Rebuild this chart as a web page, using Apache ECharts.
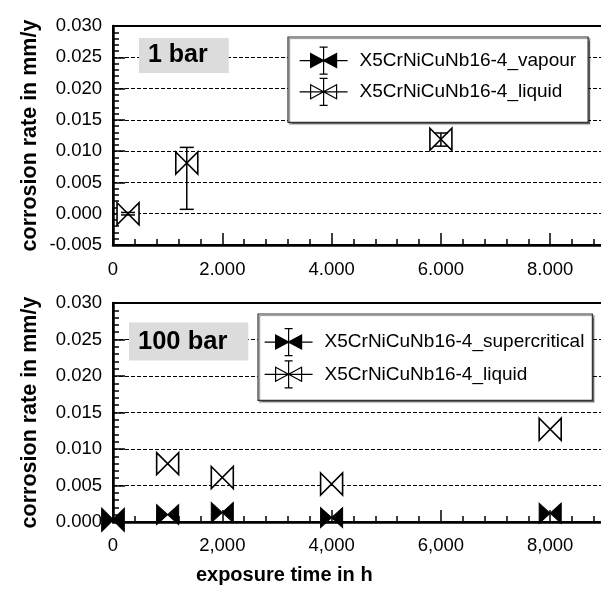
<!DOCTYPE html>
<html>
<head>
<meta charset="utf-8">
<script src="https://cdn.jsdelivr.net/npm/echarts@6/dist/echarts.min.js"></script>
<style>html,body{margin:0;padding:0;background:#fff;}#c{width:601px;height:595px;}</style>
</head>
<body>
<div id="c"></div>
<script>
// ---- data ----
const seriesNames1 = ['X5CrNiCuNb16-4_vapour', 'X5CrNiCuNb16-4_liquid'];
const seriesNames2 = ['X5CrNiCuNb16-4_supercritical', 'X5CrNiCuNb16-4_liquid'];
const panelTitles = ['1 bar', '100 bar'];
// 1 bar panel: [time h, corrosion rate mm/y]
const vapour1 = [];
const liquid1 = [[275, 0.0000], [1350, 0.0081], [6000, 0.0119]];
// error bars: [time h, low, high]
const liquid1Err = [[275, -0.0002, 0.0002], [1350, 0.0007, 0.0106], [6000, 0.0108, 0.0129]];
// 100 bar panel
const supercrit2 = [[0, 0.0003], [1000, 0.0010], [2000, 0.0013], [4000, 0.0006], [8000, 0.0012]];
const liquid2 = [[0, 0.0003], [1000, 0.0080], [2000, 0.0061], [4000, 0.0052], [8000, 0.0127]];
const xTickLabels1 = ['0', '2.000', '4.000', '6.000', '8.000'];
const xTickLabels2 = ['0', '2,000', '4,000', '6,000', '8,000'];
const yName = 'corrosion rate in mm/y';
const xName = 'exposure time in h';

// ---- styling ----
const FONT = 'Liberation Sans, Arial, Helvetica, sans-serif';
const bowtie = 'path://M0,0L20,20L20,0L0,20Z';
const legendIcon = 'path://M0,13.5L48,13.5M24,0L24,27M20,0L28,0M20,27L28,27M11,6.5L37,20.5L37,6.5L11,20.5Z';
const openStyle = {color: '#fff', borderColor: '#000', borderWidth: 1.6, opacity: 1};
const filledStyle = {color: '#000', borderColor: '#000', borderWidth: 1, opacity: 1};
const GRID_W = 546.5; // axis 0..10000 h; the window shows 0..~8950 h

function xAxisOpt(gridIndex, labels, withName) {
  const o = {
    type: 'value', gridIndex, min: 0, max: 10000, interval: 2000,
    axisLine: {show: true, onZero: false, lineStyle: {color: '#000', width: 2.5}},
    axisTick: {show: true, inside: true, length: 12, lineStyle: {color: '#000', width: 1.5}},
    minorTick: {show: true, splitNumber: 5, length: 6, lineStyle: {color: '#000', width: 1.5}},
    splitLine: {show: false},
    axisLabel: {
      margin: gridIndex === 0 ? 15 : 14, fontFamily: FONT, fontSize: 18.5, color: '#000',
      showMaxLabel: false,
      formatter: v => { const i = Math.round(v / 2000); return labels[i] !== undefined ? labels[i] : ''; }
    }
  };
  if (withName) {
    o.name = xName; o.nameLocation = 'middle'; o.nameGap = 43; o.nameMoveOverlap = false;
    o.nameTextStyle = {fontFamily: FONT, fontSize: 20, fontWeight: 'bold', color: '#000', padding: [0, 204, 0, 0]};
  }
  return o;
}
function yAxisOpt(gridIndex, min) {
  return {
    type: 'value', gridIndex, min: min, max: 0.030, interval: 0.005,
    name: yName, nameLocation: 'middle', nameGap: 72, nameMoveOverlap: false,
    nameTextStyle: {fontFamily: FONT, fontSize: 21.5, fontWeight: 'bold', color: '#000'},
    axisLine: {show: true, onZero: false, lineStyle: {color: '#000', width: 2.5}},
    axisTick: {show: true, inside: true, length: 12, lineStyle: {color: '#000', width: 1.5}},
    minorTick: {show: true, splitNumber: 5, length: 6, lineStyle: {color: '#000', width: 1.5}},
    splitLine: {show: true, lineStyle: {color: '#000', width: 1, type: [4, 2]}},
    axisLabel: {margin: 11, fontFamily: FONT, fontSize: 18.5, color: '#000',
      formatter: v => (Math.abs(v) < 1e-9 ? 0 : v).toFixed(3)}
  };
}
function errSeries(data, xi, yi) {
  return {
    type: 'custom', xAxisIndex: xi, yAxisIndex: yi, z: 5, silent: true,
    encode: {x: 0, y: [1, 2]},
    data: data,
    renderItem: function (params, api) {
      const x = api.value(0), lo = api.value(1), hi = api.value(2);
      const p0 = api.coord([x, lo]), p1 = api.coord([x, hi]);
      const cap = 7;
      const st = {stroke: '#000', lineWidth: 1.5};
      return {type: 'group', children: [
        {type: 'line', shape: {x1: p0[0], y1: p0[1], x2: p1[0], y2: p1[1]}, style: st},
        {type: 'line', shape: {x1: p0[0] - cap, y1: p0[1], x2: p0[0] + cap, y2: p0[1]}, style: st},
        {type: 'line', shape: {x1: p1[0] - cap, y1: p1[1], x2: p1[0] + cap, y2: p1[1]}, style: st}
      ]};
    }
  };
}
function legendOpt(names, top, left, padding, gap) {
  return {
    orient: 'vertical', left: left, top: top, padding: padding, itemGap: gap,
    itemWidth: 48, itemHeight: 27, selectedMode: false,
    backgroundColor: '#fff', borderColor: '#333', borderWidth: 1.2,
    shadowColor: 'rgba(0,0,0,0.45)', shadowBlur: 1, shadowOffsetX: 1.5, shadowOffsetY: 1.5,
    textStyle: {fontFamily: FONT, fontSize: 19, color: '#000', padding: [0, 0, 0, 7]},
    data: [
      {name: names[0], icon: legendIcon, itemStyle: {color: '#000', borderColor: '#000', borderWidth: 1.2, opacity: 1}},
      {name: names[1], icon: legendIcon, itemStyle: {color: '#fff', borderColor: '#000', borderWidth: 1.2, opacity: 1}}
    ]
  };
}

const chart = echarts.init(document.getElementById('c'), null, {renderer: 'canvas'});
chart.setOption({
  backgroundColor: '#fff',
  animation: false,
  title: [
    {text: panelTitles[0], left: 139, top: 38, padding: [5, 21, 5, 9], backgroundColor: '#dcdcdc',
      textStyle: {fontFamily: FONT, fontSize: 25, fontWeight: 'bold', color: '#000', lineHeight: 25}},
    {text: panelTitles[1], left: 129, top: 323, padding: [6, 21, 6, 9], backgroundColor: '#dcdcdc',
      textStyle: {fontFamily: FONT, fontSize: 25.5, fontWeight: 'bold', color: '#000', lineHeight: 25}}
  ],
  legend: [
    legendOpt(seriesNames1, 37, 288, [9.5, 12, 16.5, 11], 3),
    legendOpt(seriesNames2, 314, 258, [14, 8, 12, 6], 4)
  ],
  grid: [
    {left: 113, top: 26, width: GRID_W, height: 219, outerBoundsMode: 'none', containLabel: false, show: true, borderColor: '#000', borderWidth: 2, backgroundColor: 'transparent'},
    {left: 113, top: 303, width: GRID_W, height: 219, outerBoundsMode: 'none', containLabel: false, show: true, borderColor: '#000', borderWidth: 2, backgroundColor: 'transparent'}
  ],
  xAxis: [xAxisOpt(0, xTickLabels1, false), xAxisOpt(1, xTickLabels2, true)],
  yAxis: [yAxisOpt(0, -0.005), yAxisOpt(1, 0)],
  series: [
    {name: seriesNames1[0], type: 'scatter', xAxisIndex: 0, yAxisIndex: 0, data: vapour1,
      symbol: bowtie, symbolSize: [22, 20], itemStyle: filledStyle, z: 4},
    {name: seriesNames1[1], type: 'scatter', xAxisIndex: 0, yAxisIndex: 0, data: liquid1,
      symbol: bowtie, symbolSize: [22, 22], itemStyle: openStyle, z: 3},
    errSeries(liquid1Err, 0, 0),
    {name: seriesNames2[1], type: 'scatter', xAxisIndex: 1, yAxisIndex: 1, data: liquid2,
      symbol: bowtie, symbolSize: [22, 22], itemStyle: openStyle, z: 3},
    {name: seriesNames2[0], type: 'scatter', xAxisIndex: 1, yAxisIndex: 1, data: supercrit2,
      symbol: bowtie, symbolSize: [22, 20], itemStyle: filledStyle, z: 4}
  ]
});
</script>
</body>
</html>
